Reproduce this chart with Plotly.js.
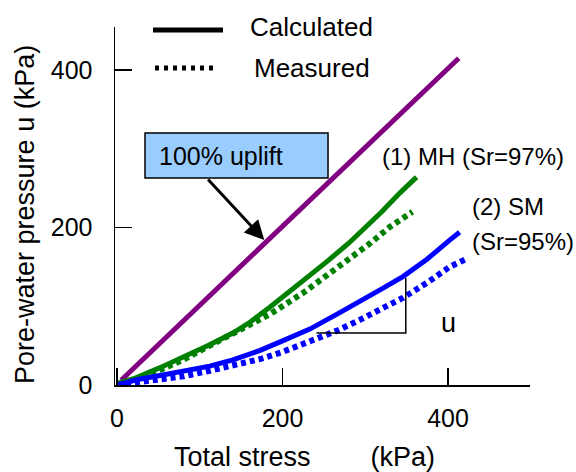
<!DOCTYPE html>
<html>
<head>
<meta charset="utf-8">
<script src="https://cdn.plot.ly/plotly-3.0.1.min.js"></script>
<style>html,body{margin:0;padding:0;background:#fff;}#chart{width:576px;height:472px;}</style>
</head>
<body>
<div id="chart"></div>
<script>
// 100% uplift reference line
const upliftX = [5, 413];
const upliftY = [6, 415];
// (1) MH calculated / measured
const mhCalcX = [0, 20, 52, 80, 112, 140, 161, 185, 209, 230, 254, 280, 302, 320, 342, 362];
const mhCalcY = [2, 8, 22, 35, 51, 66, 80, 99, 119, 136, 157, 180, 201, 220, 244, 264];
const mhMeasX = [0, 20, 52, 80, 112, 140, 185, 225, 266, 306, 330, 357];
const mhMeasY = [0, 6, 19, 32, 50, 66, 90, 117, 148, 180, 201, 220];
// (2) SM calculated / measured
const smCalcX = [0, 25, 52, 80, 112, 140, 173, 200, 233, 266, 294, 320, 346, 375, 402, 414];
const smCalcY = [0, 7, 12, 17, 24, 32, 44, 56, 71, 90, 106, 122, 138, 160, 184, 194];
const smMeasX = [0, 25, 52, 80, 112, 140, 173, 200, 233, 266, 294, 320, 346, 375, 402, 424];
const smMeasY = [0, 3, 6, 11, 18, 25, 33, 42, 55, 69, 83, 97, 111, 130, 150, 161];
// tick values
const xTicks = [0, 200, 400];
const yTicks = [0, 200, 400];
// Δu triangle guide (data units)
const triX = [241, 349, 349];
const triY = [66, 66, 136];

const FONT = 'Liberation Sans, Arial, sans-serif';
const lineTrace = (x, y, color, dotted) => ({
  x, y, type: 'scatter', mode: 'lines', showlegend: false, hoverinfo: 'skip',
  line: dotted ? {color, width: 6, dash: '5px,4px'} : {color, width: 5}
});

const data = [
  lineTrace(upliftX, upliftY, '#800080'),
  lineTrace(mhMeasX, mhMeasY, '#008000', true),
  lineTrace(mhCalcX, mhCalcY, '#008000'),
  lineTrace(smMeasX, smMeasY, '#0000FF', true),
  lineTrace(smCalcX, smCalcY, '#0000FF'),
  {x: triX, y: triY, type: 'scatter', mode: 'lines', showlegend: false, hoverinfo: 'skip',
   line: {color: '#000', width: 1.5}}
];

const txt = (text, x, y, xanchor, size, extra) => Object.assign({
  text, x, y, xref: 'paper', yref: 'paper', xanchor: xanchor || 'left', yanchor: 'middle',
  showarrow: false, font: {family: FONT, size: size || 25, color: '#000'}
}, extra || {});

const layout = {
  width: 576, height: 472,
  margin: {l: 115, r: 46, t: 27, b: 87, pad: 0},
  paper_bgcolor: '#fff', plot_bgcolor: '#fff',
  font: {family: FONT, size: 25, color: '#000'},
  showlegend: false,
  xaxis: {
    range: [-2.42, 499.1], tickvals: xTicks, ticktext: xTicks.map(String),
    ticks: 'inside', ticklen: 17, tickwidth: 1.5, tickcolor: '#000',
    showline: true, linecolor: '#000', linewidth: 1.5, mirror: false,
    showgrid: false, zeroline: false, ticklabelstandoff: 10,
    tickfont: {family: FONT, size: 25, color: '#000'}
  },
  yaxis: {
    range: [0, 454.6], tickvals: yTicks, ticktext: yTicks.map(String),
    ticks: 'inside', ticklen: 17, tickwidth: 1.5, tickcolor: '#000',
    showline: true, linecolor: '#000', linewidth: 1.5, mirror: false,
    showgrid: false, zeroline: false, ticklabelstandoff: 16,
    tickfont: {family: FONT, size: 25, color: '#000'}
  },
  shapes: [
    {type: 'line', xref: 'paper', yref: 'paper', x0: 0.0916, x1: 0.2602, y0: 0.9916, y1: 0.9916,
     line: {color: '#000', width: 5}},
    {type: 'line', xref: 'paper', yref: 'paper', x0: 0.0964, x1: 0.2482, y0: 0.8855, y1: 0.8855,
     line: {color: '#000', width: 5, dash: '4px,5px'}},
    {type: 'rect', xref: 'paper', yref: 'paper', x0: 0.0723, x1: 0.5133, y0: 0.5782, y1: 0.7039,
     fillcolor: '#99CCFF', line: {color: '#000', width: 1.5}, layer: 'above'}
  ],
  annotations: [
    txt('Calculated', 0.3205, 1.0, 'left', 26),
    txt('Measured', 0.3301, 0.8855, 'left', 26),
    txt('100% uplift', 0.2566, 0.641, 'center', 25),
    txt('(1) MH (Sr=97%)', 0.6386, 0.6369, 'left', 24),
    txt('(2) SM', 0.8554, 0.5, 'left', 24),
    txt('(Sr=95%)', 0.8554, 0.4022, 'left', 24),
    txt('u', 0.8048, 0.1732, 'center', 27),
    txt('Total stress\u00A0\u00A0\u00A0\u00A0\u00A0\u00A0\u00A0\u00A0(kPa)', 0.1373, -0.2011, 'left', 27),
    txt('Pore-water pressure u (kPa)', -0.2169, 0.4777, 'center', 27, {textangle: -90}),
    {x: 178, y: 184, xref: 'x', yref: 'y', ax: 108.4, ay: 262.9, axref: 'x', ayref: 'y',
     text: '', showarrow: true, arrowhead: 2, arrowsize: 1.3, arrowwidth: 3, arrowcolor: '#000', standoff: 0}
  ]
};

Plotly.newPlot('chart', data, layout, {staticPlot: true, displayModeBar: false});
</script>
</body>
</html>
